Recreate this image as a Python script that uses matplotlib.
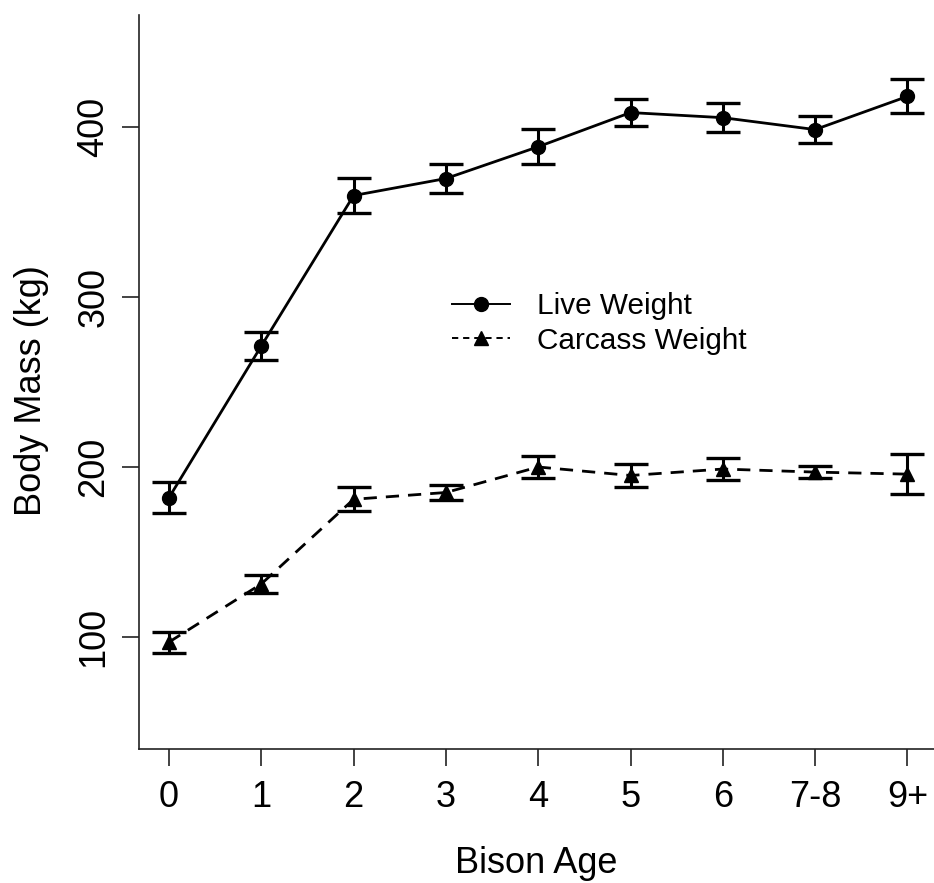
import numpy as np
import matplotlib
matplotlib.use("Agg")
import matplotlib.pyplot as plt

# Data (mean +/- SE)
ages = ["0", "1", "2", "3", "4", "5", "6", "7-8", "9+"]
live_mean = [182.0, 271.2, 359.7, 369.7, 388.4, 408.5, 405.5, 398.5, 418.0]
live_se = [9.0, 8.2, 10.3, 8.5, 10.4, 8.0, 8.5, 8.0, 10.0]
carcass_mean = [97.0, 131.2, 181.0, 185.0, 200.0, 195.0, 198.8, 197.0, 195.8]
carcass_se = [6.2, 5.2, 7.0, 4.4, 6.5, 6.9, 6.5, 3.5, 11.8]

plt.rcParams['font.family'] = ['Liberation Sans', 'DejaVu Sans']
plt.rcParams['lines.scale_dashes'] = False

fig = plt.figure(figsize=(9.34, 8.83), dpi=100)
ax = fig.add_axes([139 / 934, 1 - 749 / 883, 1 - 139 / 934, (749 - 15) / 883])

x = np.arange(len(ages))

# Error bars
ax.errorbar(x, live_mean, yerr=live_se, fmt='none', ecolor='black',
            elinewidth=2.2, capsize=12.2, capthick=2.4, zorder=2)
ax.errorbar(x, carcass_mean, yerr=carcass_se, fmt='none', ecolor='black',
            elinewidth=2.2, capsize=12.2, capthick=2.4, zorder=2)

# Series
ax.plot(x, live_mean, color='black', lw=2.0, marker='o', markersize=10,
        label='Live Weight', zorder=3)
ax.plot(x, carcass_mean, color='black', lw=2.0, marker='^', markersize=10,
        dashes=(9.5, 6.5), label='Carcass Weight', zorder=3)

ax.set_xlim(-0.325, 8.288)
ax.set_ylim(34.1, 465.9)
ax.set_xticks(x)
ax.set_xticklabels(ages)
ax.set_yticks([100, 200, 300, 400])

for s in ['top', 'right']:
    ax.spines[s].set_visible(False)
for s in ['left', 'bottom']:
    ax.spines[s].set_linewidth(1.2)
    ax.spines[s].set_color('#222222')

ax.tick_params(axis='both', length=12, width=1.2, color='#222222',
               labelsize=26)
ax.tick_params(axis='x', pad=10)
ax.tick_params(axis='y', pad=8)
for lab in ax.get_yticklabels():
    lab.set_rotation(90)
    lab.set_va('center')

ax.set_xlabel('Bison Age', fontsize=26)
ax.set_ylabel('Body Mass (kg)', fontsize=26)
ax.xaxis.set_label_coords(0.5, -0.132)
ax.yaxis.set_label_coords(-0.113, 0.488)

leg = ax.legend(loc='center left', bbox_to_anchor=((452 - 139) / 795, (749 - 323.5) / 734),
                frameon=False, fontsize=21.4, handlelength=1.95, handletextpad=0.9,
                labelspacing=0.22, borderpad=0, borderaxespad=0)
leg.get_lines()[0].set_linewidth(1.4)
leg.get_lines()[1].set_linewidth(1.4)
leg.get_lines()[1].set_dashes((4.5, 3.5))

fig.savefig('out.png', dpi=100)
